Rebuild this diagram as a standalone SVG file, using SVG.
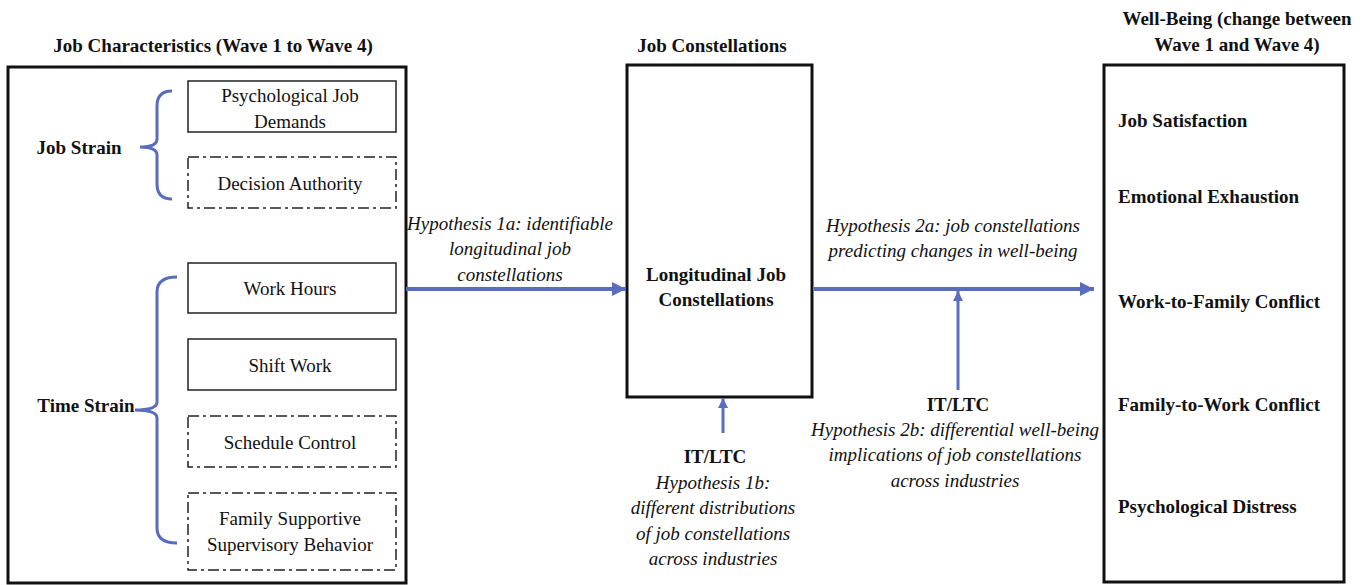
<svg xmlns="http://www.w3.org/2000/svg" width="1361" height="585" viewBox="0 0 1361 585">
<defs>
<style>
text{font-family:"Liberation Serif","Times New Roman",serif;fill:#111;text-anchor:middle}
.b{font-weight:bold;font-size:19px}
.r{font-size:19px}
.i{font-style:italic;font-size:19px}
.bl{font-weight:bold;font-size:19px;text-anchor:start}
.big{fill:#fff;stroke:#111;stroke-width:3}
.sb{fill:#fff;stroke:#222;stroke-width:1.5}
.db{fill:#fff;stroke:#222;stroke-width:1.5;stroke-dasharray:11 4 3 4}
.br{fill:none;stroke:#5a6dbd;stroke-width:3}
.ar{fill:none;stroke:#5a6dbd;stroke-width:4}
.av{fill:none;stroke:#5a6dbd;stroke-width:3}
</style>
<marker id="ah" viewBox="0 0 10 10" refX="10" refY="5" markerUnits="userSpaceOnUse" markerWidth="14" markerHeight="14" orient="auto"><path d="M0,0 L10,5 L0,10 z" fill="#5a6dbd"/></marker>
<marker id="ahs" viewBox="0 0 10 10" refX="10" refY="5" markerUnits="userSpaceOnUse" markerWidth="10" markerHeight="11" orient="auto"><path d="M0,0 L10,5 L0,10 z" fill="#5a6dbd"/></marker>
</defs>

<g id="headers">
<text class="b" x="213" y="52">Job Characteristics (Wave 1 to Wave 4)</text>
<text class="b" x="712" y="52">Job Constellations</text>
<text class="b" x="1237" y="25">Well-Being (change between</text>
<text class="b" x="1237" y="51">Wave 1 and Wave 4)</text>
</g>

<g id="job-characteristics">
<rect class="big" x="8" y="67" width="398" height="516"/>
<text class="b" x="79" y="154">Job Strain</text>
<text class="b" x="86" y="412">Time Strain</text>
</g>

<g id="psych-demands"><rect class="sb" x="188" y="81" width="208" height="51"/><text class="r" x="290" y="102">Psychological Job</text><text class="r" x="290" y="128">Demands</text></g>
<g id="decision-authority"><rect class="db" x="188" y="157" width="208" height="51"/><text class="r" x="290" y="190">Decision Authority</text></g>
<g id="work-hours"><rect class="sb" x="188" y="263" width="208" height="50"/><text class="r" x="290" y="295">Work Hours</text></g>
<g id="shift-work"><rect class="sb" x="188" y="339" width="208" height="51"/><text class="r" x="290" y="372">Shift Work</text></g>
<g id="schedule-control"><rect class="db" x="188" y="416" width="208" height="51"/><text class="r" x="290" y="449">Schedule Control</text></g>
<g id="fssb"><rect class="db" x="188" y="493" width="208" height="77"/><text class="r" x="290" y="525">Family Supportive</text><text class="r" x="290" y="551">Supervisory Behavior</text></g>

<g id="job-constellations">
<rect class="big" x="627" y="65" width="185" height="332"/>
<text class="b" x="716" y="281">Longitudinal Job</text>
<text class="b" x="716" y="306">Constellations</text>
</g>

<g id="well-being">
<rect class="big" x="1104" y="65" width="240" height="517"/>
<text class="bl" x="1118" y="127">Job Satisfaction</text>
<text class="bl" x="1118" y="203">Emotional Exhaustion</text>
<text class="bl" x="1118" y="308">Work-to-Family Conflict</text>
<text class="bl" x="1118" y="411">Family-to-Work Conflict</text>
<text class="bl" x="1118" y="513">Psychological Distress</text>
</g>

<g id="moderator-1">
<text class="b" x="715" y="463">IT/LTC</text>
<text class="i" x="713" y="489">Hypothesis 1b:</text>
<text class="i" x="713" y="514">different distributions</text>
<text class="i" x="713" y="540">of job constellations</text>
<text class="i" x="713" y="565">across industries</text>
</g>

<g id="moderator-2">
<text class="b" x="958" y="411">IT/LTC</text>
<text class="i" x="955" y="436">Hypothesis 2b: differential well-being</text>
<text class="i" x="955" y="461">implications of job constellations</text>
<text class="i" x="955" y="487">across industries</text>
</g>

<g id="hyp-labels">
<text class="i" x="510" y="230">Hypothesis 1a: identifiable</text>
<text class="i" x="510" y="255">longitudinal job</text>
<text class="i" x="510" y="281">constellations</text>
<text class="i" x="953" y="232">Hypothesis 2a: job constellations</text>
<text class="i" x="953" y="257">predicting changes in well-being</text>
</g>

<g id="connectors">
<path class="br" d="M172,91 Q157,91 157,106 L157,139 Q157,147 140,147 Q157,147 157,155 L157,184 Q157,199 172,199"/>
<path class="br" d="M177,277 Q157,277 157,292 L157,402 Q157,410 135,410 Q157,410 157,418 L157,528 Q157,543 177,543"/>
<line class="ar" x1="406" y1="289" x2="626" y2="289" marker-end="url(#ah)"/>
<line class="ar" x1="814" y1="289" x2="1094" y2="289" marker-end="url(#ah)"/>
<line class="av" x1="723" y1="433" x2="723" y2="398" marker-end="url(#ahs)"/>
<line class="av" x1="958" y1="390" x2="958" y2="291" marker-end="url(#ahs)"/>
</g>
</svg>
